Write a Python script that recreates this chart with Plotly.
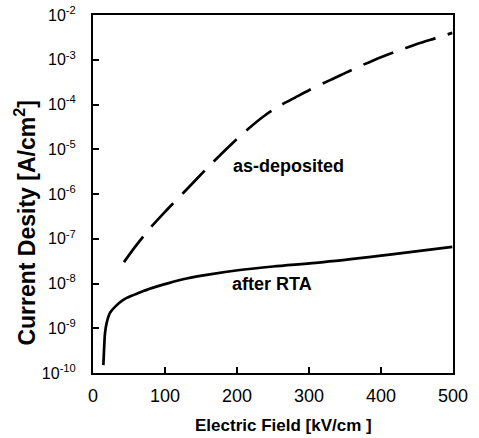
import plotly.graph_objects as go

# as-deposited (dashed)
dep_field = [43, 60, 80, 100, 130, 160, 190, 215, 240, 260, 280, 300, 330, 360,
             390, 420, 450, 475, 499]
dep_current = [3.0e-8, 7.1e-8, 1.78e-7, 4.0e-7, 1.26e-6, 4.0e-6, 1.20e-5, 2.8e-5,
               5.9e-5, 9.5e-5, 1.41e-4, 2.09e-4, 3.55e-4, 6.0e-4, 9.8e-4, 1.51e-3,
               2.24e-3, 3.0e-3, 3.98e-3]

# after RTA (solid)
rta_field = [14.4, 15.3, 16.7, 19, 23.6, 30.5, 42, 56, 70, 88, 105, 130, 160, 204,
             250, 320, 412, 499]
rta_current = [1.5e-10, 3.2e-10, 7.8e-10, 1.32e-9, 2.2e-9, 3.0e-9, 4.3e-9, 5.5e-9,
               6.8e-9, 8.5e-9, 1.02e-8, 1.29e-8, 1.58e-8, 2.0e-8, 2.4e-8, 3.0e-8,
               4.4e-8, 6.6e-8]

x_ticks = [0, 100, 200, 300, 400, 500]
y_ticks = [1e-10, 1e-9, 1e-8, 1e-7, 1e-6, 1e-5, 1e-4, 1e-3, 1e-2]
y_ticktext = ["10<sup>-10</sup>", "10<sup>-9</sup>", "10<sup>-8</sup>", "10<sup>-7</sup>",
              "10<sup>-6</sup>", "10<sup>-5</sup>", "10<sup>-4</sup>", "10<sup>-3</sup>",
              "10<sup>-2</sup>"]

FONT = "Liberation Sans, Arial, sans-serif"

fig = go.Figure()
fig.add_trace(go.Scatter(x=dep_field, y=dep_current, mode="lines",
                         line=dict(color="black", width=2.7, dash="32px,13px", shape="spline",
                                   smoothing=0.8),
                         showlegend=False))
fig.add_trace(go.Scatter(x=rta_field, y=rta_current, mode="lines",
                         line=dict(color="black", width=2.7, shape="spline", smoothing=0.8),
                         showlegend=False))

fig.add_annotation(x=272, y=-5.37, text="<b>as-deposited</b>", showarrow=False,
                   font=dict(family=FONT, size=18, color="black"))
fig.add_annotation(x=249, y=-8.01, text="<b>after RTA</b>", showarrow=False,
                   font=dict(family=FONT, size=18, color="black"))

# axis titles as annotations for exact placement
fig.add_annotation(xref="paper", yref="paper", x=0.528, y=-0.148,
                   xanchor="center", yanchor="middle",
                   text="<b>Electric Field [kV/cm ]</b>", showarrow=False,
                   font=dict(family=FONT, size=17, color="black"))
fig.add_annotation(xref="paper", yref="paper", x=-0.189, y=0.42, textangle=-90,
                   xanchor="center", yanchor="middle",
                   text="<b>Current Desity [A/cm<sup>2</sup>]</b>", showarrow=False,
                   font=dict(family=FONT, size=23, color="black"))

fig.update_layout(
    width=479, height=438,
    margin=dict(l=93, r=26, t=15, b=65),
    paper_bgcolor="white", plot_bgcolor="white",
    font=dict(family=FONT, color="black"),
)
fig.update_xaxes(
    range=[0, 500], tickvals=x_ticks, ticks="inside", ticklen=6, tickwidth=1.5,
    tickcolor="black", showline=True, linecolor="black", linewidth=2, mirror=True,
    showgrid=False, zeroline=False, tickfont=dict(size=18), ticklabelstandoff=5,
    automargin=False, ticklabeloverflow="allow",
)
fig.update_yaxes(
    type="log", range=[-10, -2], tickvals=y_ticks, ticktext=y_ticktext,
    ticks="inside", ticklen=6, tickwidth=1.5, tickcolor="black",
    showline=True, linecolor="black", linewidth=2, mirror=True,
    showgrid=False, zeroline=False, tickfont=dict(size=16), ticklabelstandoff=12,
    automargin=False, ticklabeloverflow="allow",
)

# remove the browser's default 8px body margin so the figure sits at the page corner
fig.write_html("out.html", config={"displayModeBar": False},
               post_script="document.body.style.margin='0px';")
